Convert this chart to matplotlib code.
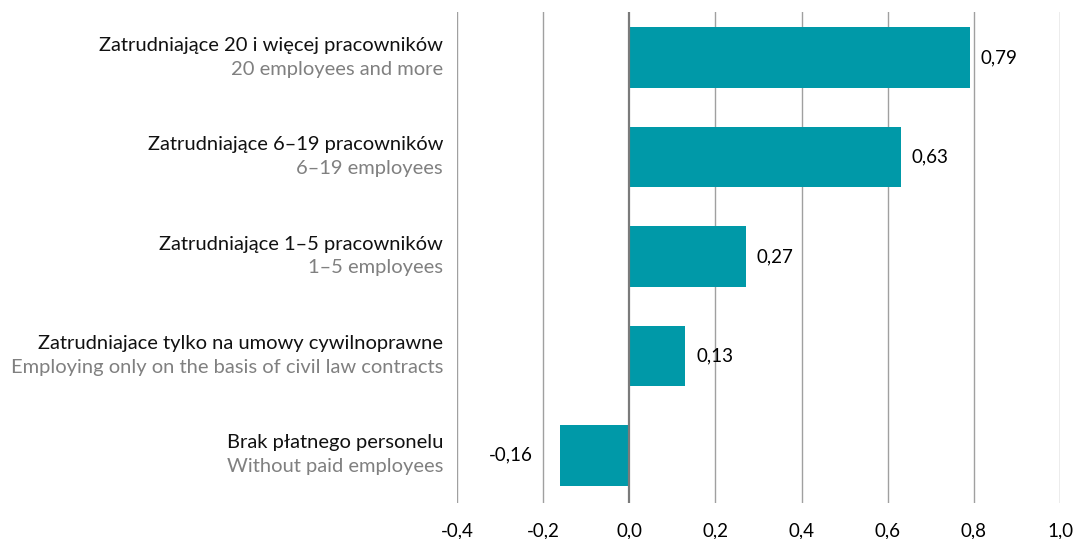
import matplotlib
matplotlib.use('Agg')
import matplotlib.pyplot as plt
import numpy as np

plt.rcParams['font.family'] = ['Lato', 'DejaVu Sans']

# data
labels_pl = ['Zatrudniające 20 i więcej pracowników',
             'Zatrudniające 6–19 pracowników',
             'Zatrudniające 1–5 pracowników',
             'Zatrudniajace tylko na umowy cywilnoprawne',
             'Brak płatnego personelu']
labels_en = ['20 employees and more',
             '6–19 employees',
             '1–5 employees',
             'Employing only on the basis of civil law contracts',
             'Without paid employees']
values = [0.79, 0.63, 0.27, 0.13, -0.16]
ticks = [-0.4, -0.2, 0.0, 0.2, 0.4, 0.6, 0.8, 1.0]

bar_color = '#0099a8'

fig = plt.figure(figsize=(10.74, 5.39), dpi=100)
ax = fig.add_axes([0.4255, 0.0668, 0.5615, 0.911])

y = np.arange(len(values))
ax.barh(y, values, height=0.61, color=bar_color, zorder=3)

ax.set_xlim(-0.4, 1.0)
ax.set_ylim(4.48, -0.46)
ax.set_xticks(ticks)
ax.set_xticklabels([('%.1f' % t).replace('.', ',') for t in ticks], fontsize=13.5)
ax.tick_params(axis='x', length=0, pad=14)
ax.set_yticks([])
for s in ax.spines.values():
    s.set_visible(False)

for t in ticks:
    if t == 0.0:
        ax.axvline(t, color='#7a7a7a', lw=1.6, zorder=4)
    else:
        ax.axvline(t, color='#a0a0a0', lw=1.0, zorder=1)

trans = matplotlib.transforms.blended_transform_factory(ax.transAxes, ax.transData)
for i in range(len(values)):
    ax.text(-0.023, y[i] - 0.125, labels_pl[i], transform=trans, ha='right', va='center',
            fontsize=14.5, color='#111111')
    ax.text(-0.023, y[i] + 0.115, labels_en[i], transform=trans, ha='right', va='center',
            fontsize=14.5, color='#808080')

for i, v in enumerate(values):
    txt = ('%.2f' % v).replace('.', ',')
    if v >= 0:
        ax.annotate(txt, (v, y[i]), xytext=(8, 0), textcoords='offset points',
                    ha='left', va='center', fontsize=13.5)
    else:
        ax.annotate(txt, (v, y[i]), xytext=(-20, 0), textcoords='offset points',
                    ha='right', va='center', fontsize=13.5)

fig.savefig('out.png', dpi=100)
